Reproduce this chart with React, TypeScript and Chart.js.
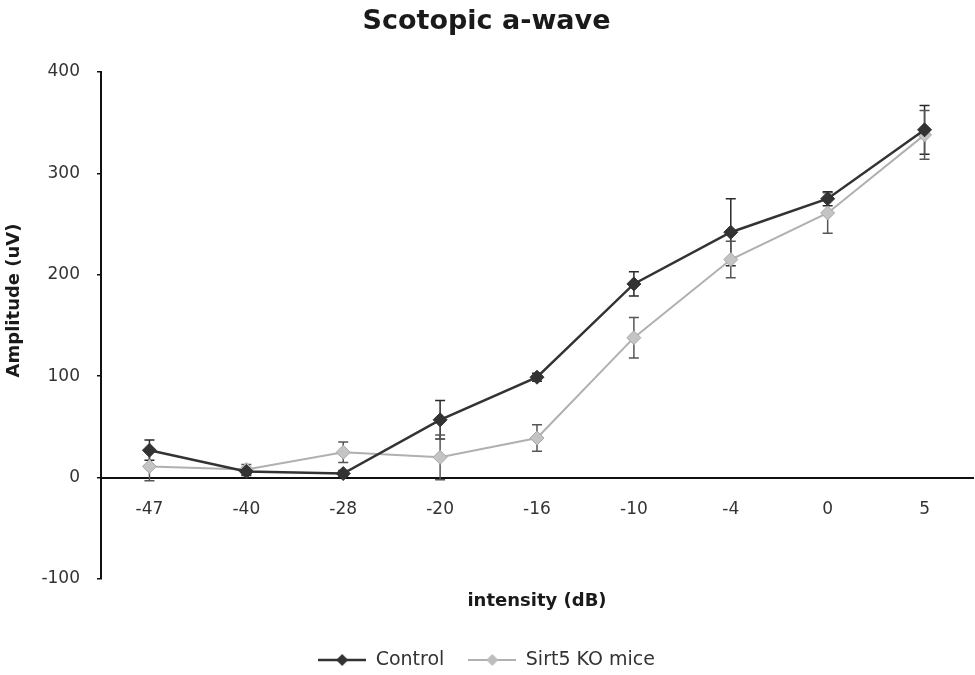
import { useEffect, useRef } from 'react';
import { Chart, registerables } from 'chart.js';

Chart.register(...registerables);

const chartTitle = 'Scotopic a-wave';
const xAxisTitle = 'intensity (dB)';
const yAxisTitle = 'Amplitude (uV)';
const intensityLabels = ['-47', '-40', '-28', '-20', '-16', '-10', '-4', '0', '5'];
const controlValues = [27, 6, 4, 57, 99, 191, 242, 275, 343];
const controlErrors = [10, 4, 3, 19, 4, 12, 33, 7, 24];
const sirt5Values = [11, 8, 25, 20, 39, 138, 215, 261, 338];
const sirt5Errors = [14, 5, 10, 22, 13, 20, 18, 20, 24];
const yTicks = [-100, 0, 100, 200, 300, 400];

const FONT = "'DejaVu Sans', sans-serif";

function makeSwatch(lineColor: string, lineWidth: number, markerColor: string) {
  const c = document.createElement('canvas');
  c.width = 48;
  c.height = 16;
  const ctx = c.getContext('2d')!;
  ctx.strokeStyle = lineColor;
  ctx.lineWidth = lineWidth;
  ctx.beginPath();
  ctx.moveTo(0, 8);
  ctx.lineTo(48, 8);
  ctx.stroke();
  ctx.fillStyle = markerColor;
  ctx.beginPath();
  ctx.moveTo(24, 2);
  ctx.lineTo(30, 8);
  ctx.lineTo(24, 14);
  ctx.lineTo(18, 8);
  ctx.closePath();
  ctx.fill();
  return c;
}

const errorBarPlugin = {
  id: 'errorBars',
  beforeDatasetsDraw(chart: any) {
    const ctx = chart.ctx;
    const yScale = chart.scales.y;
    chart.data.datasets.forEach((ds: any, di: number) => {
      const meta = chart.getDatasetMeta(di);
      const errs: number[] = ds.errors || [];
      ctx.save();
      ctx.strokeStyle = ds.errorColor;
      ctx.lineWidth = 1.5;
      meta.data.forEach((pt: any, i: number) => {
        const v = ds.data[i];
        const e = errs[i] || 0;
        const top = yScale.getPixelForValue(v + e);
        const bot = yScale.getPixelForValue(v - e);
        ctx.beginPath();
        ctx.moveTo(pt.x, top);
        ctx.lineTo(pt.x, bot);
        ctx.moveTo(pt.x - 5, top);
        ctx.lineTo(pt.x + 5, top);
        ctx.moveTo(pt.x - 5, bot);
        ctx.lineTo(pt.x + 5, bot);
        ctx.stroke();
      });
      ctx.restore();
    });
  },
};

export default function App() {
  const canvasRef = useRef<HTMLCanvasElement>(null);

  useEffect(() => {
    if (!canvasRef.current) return;
    const swatches = [
      makeSwatch('#333333', 2.5, '#333333'),
      makeSwatch('#b0b0b0', 2, '#bdbdbd'),
    ];
    const chart = new Chart(canvasRef.current, {
      type: 'line',
      data: {
        labels: intensityLabels,
        datasets: [
          {
            label: 'Control',
            data: controlValues,
            borderColor: '#333333',
            backgroundColor: '#333333',
            borderWidth: 2.5,
            pointStyle: 'rectRot',
            pointRadius: 7,
            pointBorderWidth: 1,
            pointBackgroundColor: '#333333',
            pointBorderColor: '#333333',
            xAxisID: 'x',
            errors: controlErrors,
            errorColor: '#2a2a2a',
          } as any,
          {
            label: 'Sirt5 KO mice',
            data: sirt5Values,
            borderColor: '#b0b0b0',
            backgroundColor: '#bdbdbd',
            borderWidth: 2,
            pointStyle: 'rectRot',
            pointRadius: 7,
            pointBorderWidth: 1,
            pointBackgroundColor: '#c4c4c4',
            pointBorderColor: '#a8a8a8',
            xAxisID: 'x',
            errors: sirt5Errors,
            errorColor: '#555555',
          } as any,
        ],
      },
      options: {
        animation: false,
        responsive: true,
        maintainAspectRatio: false,
        layout: { autoPadding: false, padding: { left: 0, right: 2, top: 0, bottom: 5.5 } },
        plugins: {
          title: {
            display: true,
            text: chartTitle,
            color: '#1a1a1a',
            font: { family: FONT, size: 27, weight: 'bold' },
            padding: { top: 6, bottom: 33.6 },
          },
          legend: {
            display: true,
            position: 'bottom',
            maxHeight: 43,
            labels: {
              usePointStyle: true,
              pointStyleWidth: 48,
              padding: 24,
              color: '#333',
              font: { family: FONT, size: 19 },
              generateLabels: (ch: any) => {
                const items = Chart.defaults.plugins.legend.labels.generateLabels(ch);
                return items.map((it: any) => ({ ...it, pointStyle: swatches[it.datasetIndex] }));
              },
            },
          },
          tooltip: { enabled: false },
        },
        scales: {
          x: {
            type: 'category',
            position: { y: 0 } as any,
            offset: true,
            grid: { display: false, drawTicks: true, tickLength: 22 },
            border: { display: true, color: '#111', width: 2 },
            ticks: {
              color: '#333',
              font: { family: FONT, size: 17 },
              padding: 0,
              maxRotation: 0,
              autoSkip: false,
            },
          },
          x2: {
            type: 'category',
            axis: 'x',
            position: 'bottom',
            offset: true,
            grid: { display: false, drawTicks: false },
            border: { display: false },
            ticks: { display: false },
            title: {
              display: true,
              text: xAxisTitle,
              color: '#1a1a1a',
              font: { family: FONT, size: 18, weight: 'bold' },
              padding: { top: 0, bottom: 14.7 },
            },
            afterFit: (s: any) => {
              s.height = 47.5;
            },
          } as any,
          y: {
            type: 'linear',
            position: 'left',
            min: -100,
            max: 400,
            afterBuildTicks: (s: any) => {
              s.ticks = yTicks.map((v) => ({ value: v }));
            },
            grid: {
              display: true,
              drawOnChartArea: false,
              drawTicks: true,
              tickLength: 4,
              color: '#111',
              lineWidth: 1.5,
            },
            border: { display: true, color: '#111', width: 2 },
            ticks: {
              color: '#333',
              font: { family: FONT, size: 17 },
              padding: 17,
            },
            title: {
              display: true,
              text: '        ' + yAxisTitle,
              color: '#1a1a1a',
              font: { family: FONT, size: 18, weight: 'bold' },
              padding: { top: 4, bottom: 0 },
            },
            afterFit: (s: any) => {
              s.width = 101;
            },
          },
        },
      },
      plugins: [errorBarPlugin],
    } as any);
    return () => chart.destroy();
  }, []);

  return (
    <div style={{ position: 'fixed', left: 0, top: 0, width: 975, height: 675, background: '#fff' }}>
      <canvas ref={canvasRef} />
    </div>
  );
}
